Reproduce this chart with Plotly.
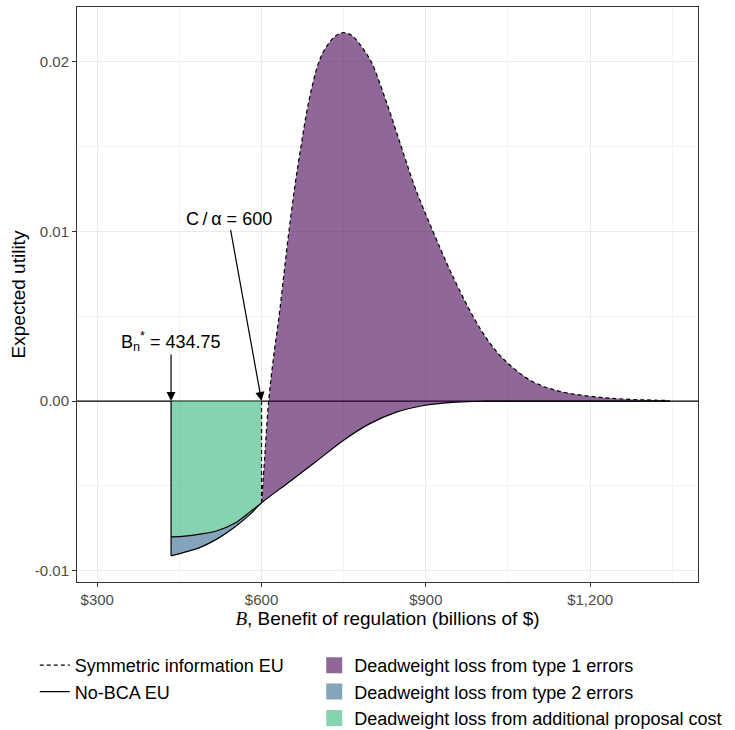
import plotly.graph_objects as go

# ---------------- data ----------------
# Symmetric information EU (dashed); jumps from 0 to the first value at C/alpha
B_sym = [600, 606, 613, 622, 632, 641, 650, 661, 672, 686, 705, 719, 735, 750,
         766, 782, 800, 826, 855, 880, 913, 947, 986, 1015, 1044, 1092, 1141,
         1200, 1260, 1345]
EU_sym = [-0.0060, -0.0032, 0.0000, 0.0026, 0.0050, 0.0075, 0.0100, 0.0127,
          0.0150, 0.0176, 0.0200, 0.0209, 0.0215, 0.0217, 0.0215, 0.0209,
          0.0200, 0.0178, 0.0150, 0.0126, 0.0100, 0.0075, 0.0050, 0.0035,
          0.0024, 0.0012, 0.0006, 0.00028, 0.00012, 0.00003]

# No-BCA EU (solid); jumps from 0 to the first value at B_n*
B_nobca = [434.75, 457, 488, 519, 550, 580, 600, 650, 699, 748, 796, 845, 894,
           955, 1010, 1100, 1345]
EU_nobca = [-0.00912, -0.00893, -0.00862, -0.00812, -0.00745, -0.00665,
            -0.00600, -0.00478, -0.00358, -0.00235, -0.00136, -0.00067,
            -0.00028, -0.00007, -0.00001, 0.0, 0.0]

# Boundary between additional-proposal-cost loss and type 2 loss
B_mid = [434.75, 460, 488, 519, 550, 580, 600]
EU_mid = [-0.00800, -0.00796, -0.00784, -0.00764, -0.00722, -0.00650, -0.00600]

B_n_star = 434.75
C_over_alpha = 600

x_range = [263, 1397]
y_range = [-0.01066, 0.02321]
x_tickvals = [300, 600, 900, 1200]
x_ticktext = ["$300", "$600", "$900", "$1,200"]
y_tickvals = [-0.01, 0.00, 0.01, 0.02]
y_ticktext = ["-0.01", "0.00", "0.01", "0.02"]

line_names = ["Symmetric information EU", "No-BCA EU"]
area_names = ["Deadweight loss from type 1 errors",
              "Deadweight loss from type 2 errors",
              "Deadweight loss from additional proposal cost"]
area_colors = ["rgba(68,1,84,0.6)", "rgba(49,104,142,0.6)", "rgba(53,183,121,0.6)"]

# ---------------- styling ----------------
FONT = "Liberation Sans, Arial, Helvetica, sans-serif"
BLACK = "#000000"
LW = 1.2
DASH = "4px,3px"

fig = go.Figure()

# horizontal reference line at zero, spanning the panel
fig.add_trace(go.Scatter(x=x_range, y=[0, 0], mode="lines",
                         line=dict(color=BLACK, width=LW),
                         showlegend=False, hoverinfo="skip"))

i600 = B_nobca.index(C_over_alpha)

# green: between 0 and mid curve
fig.add_trace(go.Scatter(x=[B_mid[0], B_mid[-1]], y=[0, 0], mode="lines",
                         line=dict(width=0), showlegend=False, hoverinfo="skip"))
fig.add_trace(go.Scatter(x=B_mid, y=EU_mid, mode="lines", fill="tonexty",
                         fillcolor=area_colors[2], line=dict(width=0, shape="spline"),
                         showlegend=False, hoverinfo="skip"))
# blue: between mid curve and No-BCA EU (left part)
fig.add_trace(go.Scatter(x=B_nobca[:i600 + 1], y=EU_nobca[:i600 + 1], mode="lines",
                         fill="tonexty", fillcolor=area_colors[1],
                         line=dict(width=0, shape="spline"),
                         showlegend=False, hoverinfo="skip"))
# purple: between No-BCA EU and symmetric EU (right part)
fig.add_trace(go.Scatter(x=B_nobca[i600:], y=EU_nobca[i600:], mode="lines",
                         line=dict(width=0, shape="spline"),
                         showlegend=False, hoverinfo="skip"))
fig.add_trace(go.Scatter(x=B_sym, y=EU_sym, mode="lines", fill="tonexty",
                         fillcolor=area_colors[0], line=dict(width=0, shape="spline"),
                         showlegend=False, hoverinfo="skip"))

# lines
fig.add_trace(go.Scatter(x=B_mid, y=EU_mid, mode="lines",
                         line=dict(color=BLACK, width=LW, shape="spline"),
                         showlegend=False, hoverinfo="skip"))
fig.add_trace(go.Scatter(x=[B_n_star, B_n_star], y=[0, EU_nobca[0]], mode="lines",
                         line=dict(color=BLACK, width=LW),
                         showlegend=False, hoverinfo="skip"))
fig.add_trace(go.Scatter(x=B_nobca, y=EU_nobca, mode="lines", name=line_names[1],
                         line=dict(color=BLACK, width=LW, shape="spline"),
                         legend="legend", legendrank=2))
fig.add_trace(go.Scatter(x=[C_over_alpha, C_over_alpha], y=[0, EU_sym[0]], mode="lines",
                         line=dict(color=BLACK, width=LW, dash=DASH),
                         showlegend=False, hoverinfo="skip"))
fig.add_trace(go.Scatter(x=B_sym, y=EU_sym, mode="lines", name=line_names[0],
                         line=dict(color=BLACK, width=LW, shape="spline", dash=DASH),
                         legend="legend", legendrank=1))

# legend entries for the areas
for i, (nm, col) in enumerate(zip(area_names, area_colors)):
    fig.add_trace(go.Scatter(x=[None], y=[None], mode="markers", name=nm,
                             marker=dict(symbol="square", size=20, color=col,
                                         line=dict(width=0)),
                             legend="legend2", legendrank=i + 1))

# annotations (text sits at the arrow tail)
C_label_x, C_label_y = 540, 0.0107
Bn_label_y = 0.0035
ann_font = dict(size=18, color=BLACK, family=FONT)
fig.add_annotation(x=C_over_alpha, y=0, ax=C_label_x, ay=C_label_y, axref="x", ayref="y",
                   text="C\u2009/\u2009α = 600", showarrow=True, arrowhead=2,
                   arrowsize=1.5, arrowwidth=LW, arrowcolor=BLACK, font=ann_font,
                   borderpad=0)
fig.add_annotation(x=B_n_star, y=0, ax=B_n_star, ay=Bn_label_y, axref="x", ayref="y",
                   text="B<sub>n</sub><sup>*</sup> = 434.75", showarrow=True, arrowhead=2,
                   arrowsize=1.5, arrowwidth=LW, arrowcolor=BLACK, font=ann_font,
                   borderpad=0)

axis_common = dict(showline=True, mirror=True, linecolor="#333333", linewidth=1,
                   ticks="outside", ticklen=4, tickcolor="#333333", tickwidth=1,
                   gridcolor="#EBEBEB", gridwidth=1, zeroline=False,
                   tickfont=dict(size=15, color="#4D4D4D", family=FONT))

fig.update_xaxes(range=x_range, tickvals=x_tickvals, ticktext=x_ticktext,
                 minor=dict(dtick=150, tick0=300, showgrid=True, gridcolor="#F2F2F2",
                            gridwidth=1, ticks=""),
                 title=dict(text="<span style=\"font-family:'Liberation Serif'\"><i>B</i></span>, Benefit of regulation (billions of $)",
                            font=dict(size=19, color=BLACK, family=FONT), standoff=3),
                 **axis_common)
fig.update_yaxes(range=y_range, tickvals=y_tickvals, ticktext=y_ticktext,
                 minor=dict(dtick=0.005, tick0=0, showgrid=True, gridcolor="#F2F2F2",
                            gridwidth=1, ticks=""),
                 title=dict(text="Expected utility", font=dict(size=19, color=BLACK, family=FONT),
                            standoff=4),
                 **axis_common)

fig.update_layout(
    width=735, height=730,
    margin=dict(l=77, r=37, t=7, b=148, autoexpand=False),
    paper_bgcolor="white", plot_bgcolor="white",
    font=dict(family=FONT, color=BLACK),
    legend=dict(x=-0.068, y=-0.113, xanchor="left", yanchor="top",
                font=dict(size=18, color=BLACK, family=FONT), itemwidth=30,
                bgcolor="rgba(0,0,0,0)", traceorder="normal"),
    legend2=dict(x=0.382, y=-0.113, xanchor="left", yanchor="top",
                 font=dict(size=18, color=BLACK, family=FONT),
                 bgcolor="rgba(0,0,0,0)", traceorder="normal"),
)

# remove the default page margin so the figure sits at the window's corner
fig.write_html("out.html", config={"displayModeBar": False},
               post_script="document.body.style.margin='0';document.body.style.overflow='hidden';")
